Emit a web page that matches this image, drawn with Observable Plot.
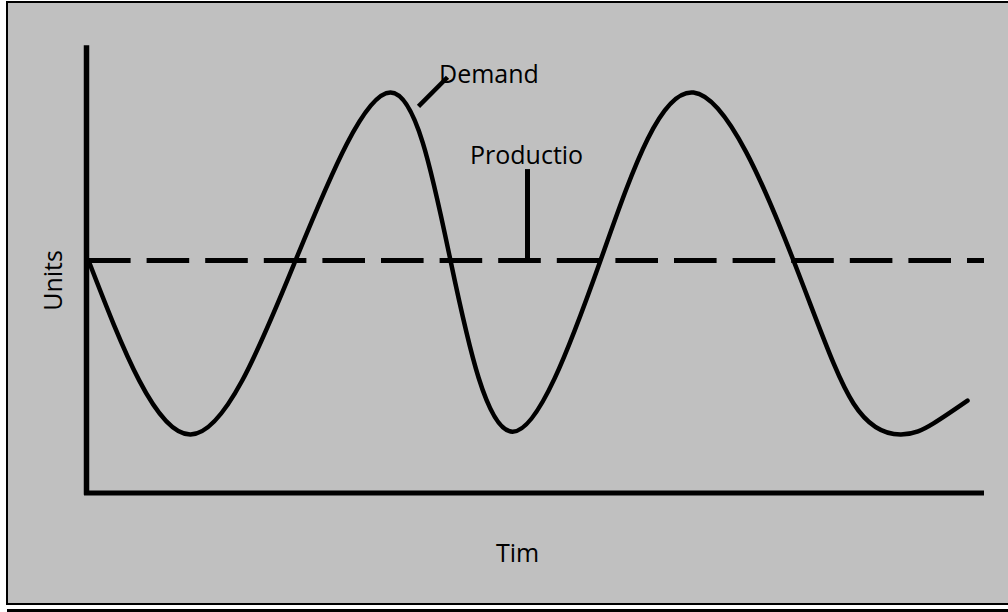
<!DOCTYPE html>
<html>
<head>
<meta charset="utf-8">
<script src="https://cdn.jsdelivr.net/npm/d3@7"></script>
<script src="https://cdn.jsdelivr.net/npm/@observablehq/plot@0.6"></script>
<style>
  html, body { margin: 0; padding: 0; background: #ffffff; }
  #wrap { position: relative; width: 1008px; height: 612px; overflow: hidden; }
  #box { position: absolute; left: 6px; top: 1px; width: 1100px; height: 600px;
         border: 2px solid #000; background: #c0c0c0; }
  #under { position: absolute; left: 7px; top: 609px; width: 1100px; height: 3px; background: #000; }
  #chart { position: absolute; left: 0; top: 0; }
</style>
</head>
<body>
<div id="wrap">
  <div id="box"></div>
  <div id="under"></div>
  <div id="chart"></div>
</div>
<script>
// Demand curve (time units, "units"): start, troughs, crossings, peaks, end
const demandTime  = [0.2, 10.4, 20.9, 30.4, 36.4, 42.6, 51.4, 60.7, 70.7, 76.7, 81.4, 84.7, 88.1];
const demandUnits = [50.0, 12.5, 50.0, 86.2, 50.0, 13.1, 50.0, 86.2, 50.0, 19.2, 12.5, 14.9, 19.8];
const productionLevel = 50;

// Label texts
const demandLabel = "Demand";
const productionLabel = "Productio";
const xTitle = "Tim";
const yTitle = "Units";

const demand = demandTime.map((t, i) => ({t, u: demandUnits[i]}));

const font = "'Open Sans', sans-serif";

const chart = Plot.plot({
  width: 1008,
  height: 612,
  marginLeft: 86,
  marginRight: 22,
  marginTop: 28,
  marginBottom: 120,
  style: {background: "transparent", fontFamily: font},
  x: {domain: [0, 90], axis: null},
  y: {domain: [0, 100], axis: null},
  marks: [
    // axes lines
    Plot.ruleX([0], {y1: -0.6, y2: 96.3, stroke: "#000", strokeWidth: 5.5}),
    Plot.ruleY([-0.1], {x1: -0.2, x2: 89.8, stroke: "#000", strokeWidth: 5}),
    // production (dashed)
    Plot.ruleY([productionLevel], {x1: 0.2, x2: 89.8, stroke: "#000", strokeWidth: 5, strokeDasharray: "42.6,16"}),
    // demand curve
    Plot.line(demand, {x: "t", y: "u", curve: "natural", stroke: "#000", strokeWidth: 4.5}),
    // leader lines
    Plot.link([{x1: 33.2, y1: 83.2, x2: 36.1, y2: 89.5}], {x1: "x1", y1: "y1", x2: "x2", y2: "y2", stroke: "#000", strokeWidth: 4.5}),
    Plot.link([{x1: 44.1, y1: 69.7, x2: 44.1, y2: productionLevel}], {x1: "x1", y1: "y1", x2: "x2", y2: "y2", stroke: "#000", strokeWidth: 5}),
    // labels
    Plot.text([demandLabel], {x: 35.25, y: 88.3, text: d => d, textAnchor: "start", lineAnchor: "bottom", fontSize: 25, fill: "#000"}),
    Plot.text([productionLabel], {x: 38.35, y: 70.9, text: d => d, textAnchor: "start", lineAnchor: "bottom", fontSize: 25, fill: "#000"}),
    Plot.text([xTitle], {x: 43.1, y: -15.0, text: d => d, textAnchor: "middle", lineAnchor: "bottom", fontSize: 25, fill: "#000"}),
    Plot.text([yTitle], {x: -2.43, y: 45.7, text: d => d, textAnchor: "middle", lineAnchor: "bottom", rotate: -90, fontSize: 25, fill: "#000"})
  ]
});
document.getElementById("chart").appendChild(chart);
</script>
</body>
</html>
